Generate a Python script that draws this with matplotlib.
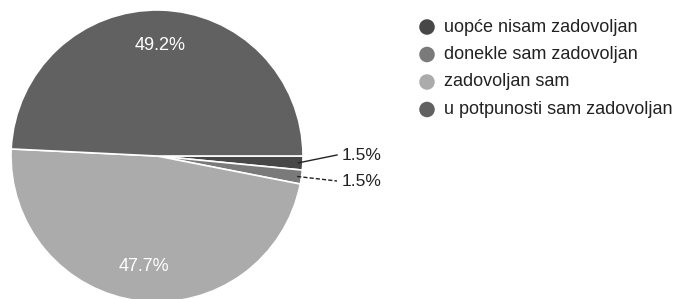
import numpy as np
import matplotlib.pyplot as plt

labels = ["uopće nisam zadovoljan", "donekle sam zadovoljan",
          "zadovoljan sam", "u potpunosti sam zadovoljan"]
counts = [1, 1, 31, 32]
colors = ["#474747", "#7a7a7a", "#ababab", "#616161"]

plt.rcParams['font.family'] = ['Liberation Sans', 'DejaVu Sans']

W, H = 680, 299
fig = plt.figure(figsize=(W / 100, H / 100), dpi=100)
ax = fig.add_axes([0, 0, 1, 1])

cx, cy, r = 157, H - 156, 146
wedges, _ = ax.pie(counts, colors=colors, startangle=0, counterclock=False,
                   radius=r, center=(cx, cy), frame=True,
                   wedgeprops=dict(edgecolor="white", linewidth=1.2))
ax.set_xlim(0, W)
ax.set_ylim(0, H)
ax.axis("off")

total = sum(counts)
small_y = [H - 155, H - 181]
k = 0
for w, c in zip(wedges, counts):
    pct = f"{100 * c / total:.1f}%"
    mid = np.deg2rad((w.theta1 + w.theta2) / 2)
    if c / total > 0.05:
        ax.text(cx + 0.76 * r * np.cos(mid), cy + 0.76 * r * np.sin(mid), pct,
                color="white", fontsize=13, ha="center", va="center")
    else:
        px, py = cx + 0.97 * r * np.cos(mid), cy + 0.97 * r * np.sin(mid)
        ty = small_y[k]
        ax.plot([px, 337], [py, ty], color="#222222", lw=1,
                ls="-" if k == 0 else (0, (3, 1.5)))
        ax.text(342, ty, pct, color="#222222", fontsize=12.5, va="center")
        k += 1

for i, (lab, col) in enumerate(zip(labels, colors)):
    y = H - (27 + 27.5 * i)
    ax.scatter([427], [y], s=125, color=col, edgecolors="none")
    ax.text(444, y, lab, color="#222222", fontsize=13, va="center")

fig.savefig("out.png", dpi=100)
